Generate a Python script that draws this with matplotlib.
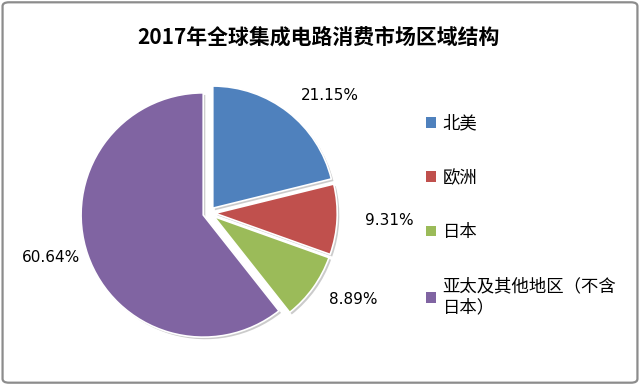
import numpy as np
import matplotlib
matplotlib.use("Agg")
import matplotlib.pyplot as plt
import matplotlib.patheffects as pe
from matplotlib.patches import FancyBboxPatch

plt.rcParams['font.family'] = ['Noto Sans CJK SC', 'DejaVu Sans']

# 数据
regions = ["北美", "欧洲", "日本", "亚太及其他地区（不含\n日本）"]
shares = [21.15, 9.31, 8.89, 60.64]
colors = ["#4F81BD", "#C0504D", "#9BBB59", "#8064A2"]
label_dist = [1.22, 1.28, 1.21, 1.12]

fig = plt.figure(figsize=(6.4, 3.85), dpi=100)

# 外框
border = FancyBboxPatch((0.004, 0.006), 0.992, 0.988, transform=fig.transFigure,
                        boxstyle="round,pad=0,rounding_size=0.01",
                        facecolor="none", edgecolor="#8c8c8c", linewidth=1.6)
fig.patches.append(border)

ax = fig.add_axes([38 / 640, 1 / 385, 342 / 640, 342 / 385])
wedges, _ = ax.pie(shares, colors=colors, startangle=90, counterclock=False,
                   explode=[0.05] * 4, radius=1.0,
                   wedgeprops=dict(edgecolor="white", linewidth=1.2))
ax.set_xlim(-1.4, 1.4)
ax.set_ylim(-1.4, 1.4)

# 标签放在扇区外侧
for w, v, d in zip(wedges, shares, label_dist):
    mid = np.deg2rad((w.theta1 + w.theta2) / 2)
    x, y = d * np.cos(mid), d * np.sin(mid)
    ax.text(x, y, f"{v:.2f}%", ha="left" if x > 0 else "right", va="center",
            fontsize=11, color="black", family="DejaVu Sans")

leg = fig.legend(wedges, regions, loc="upper left", bbox_to_anchor=(0.655, 0.72),
                 frameon=False, fontsize=12.5, handlelength=0.55, handleheight=0.55,
                 handletextpad=0.4, labelspacing=2.08, borderaxespad=0)
for h in leg.legend_handles:
    h.set_edgecolor("none")

# 阴影（图例生成后再加）
for w in wedges:
    w.set_path_effects([pe.withSimplePatchShadow(offset=(1.5, -1.5),
                                                 shadow_rgbFace="#999999", alpha=0.5)])

fig.text(0.497, 0.903, "2017年全球集成电路消费市场区域结构", ha="center", va="center",
         fontsize=15, fontweight="bold")

fig.savefig("out.png", dpi=100)
